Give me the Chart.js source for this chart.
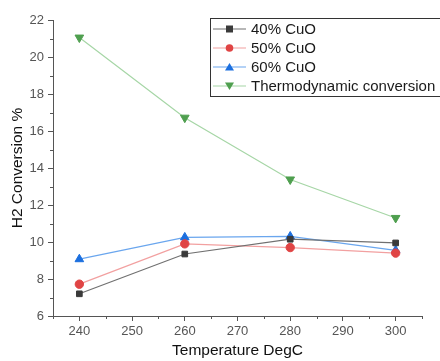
<!DOCTYPE html>
<html lang="en">
<head>
  <meta charset="UTF-8" />
  <title>H2 Conversion vs Temperature</title>
  <script src="https://cdn.jsdelivr.net/npm/chart.js"></script>
  <style>
    html, body { margin: 0; padding: 0; background: #fff; }
    #wrap { width: 440px; height: 361px; position: relative; }
  </style>
</head>
<body>
  <div id="wrap"><canvas id="conv"></canvas></div>

  <script>
    const temps = [240, 260, 280, 300];
    const cuo40 = [7.2, 9.35, 10.15, 9.95];
    const cuo50 = [7.72, 9.9, 9.7, 9.4];
    const cuo60 = [9.07, 10.25, 10.3, 9.55];
    const thermo = [21.05, 16.72, 13.38, 11.3];
    const xTicks = [240, 250, 260, 270, 280, 290, 300];
    const yTicks = [6, 8, 10, 12, 14, 16, 18, 20, 22];

    const FONT = "'Liberation Sans', Arial, sans-serif";
    const AXIS = '#555';

    function series(label, values, line, fill, style, radius) {
      return {
        label: label,
        data: temps.map((t, i) => ({ x: t, y: values[i] })),
        borderColor: line,
        borderWidth: 1.2,
        pointStyle: style,
        pointRadius: radius,
        pointBackgroundColor: fill,
        pointBorderColor: fill,
        pointBorderWidth: 1,
        pointRotation: style === 'triangle' && label === 'Thermodynamic conversion' ? 180 : 0,
        tension: 0
      };
    }

    const datasets = [
      series('40% CuO', cuo40, '#707070', '#3a3a3a', 'rect', 4),
      series('50% CuO', cuo50, '#f2a0a0', '#e04444', 'circle', 4.2),
      series('60% CuO', cuo60, '#6aa6ee', '#1b6fdf', 'triangle', 5),
      series('Thermodynamic conversion', thermo, '#a6d6a6', '#4f9f4f', 'triangle', 5)
    ];

    // minor ticks and the boxed legend
    const extras = {
      id: 'extras',
      afterDraw(chart) {
        const ctx = chart.ctx;
        const xs = chart.scales.x, ys = chart.scales.y;
        const a = chart.chartArea;
        ctx.save();
        ctx.strokeStyle = AXIS;
        ctx.lineWidth = 1;
        ctx.beginPath();
        for (let v = 235; v <= 305; v += 10) {
          const px = Math.round(xs.getPixelForValue(v)) + 0.5;
          ctx.moveTo(px, a.bottom);
          ctx.lineTo(px, a.bottom + 3);
        }
        for (let v = 7; v <= 21; v += 2) {
          const py = Math.round(ys.getPixelForValue(v)) + 0.5;
          ctx.moveTo(a.left, py);
          ctx.lineTo(a.left - 3, py);
        }
        ctx.stroke();

        // legend box
        const bx = 210.5, by = 18.5, bw = 240, bh = 78;
        ctx.strokeStyle = '#333';
        ctx.lineWidth = 1;
        ctx.fillStyle = '#fff';
        ctx.fillRect(bx, by, bw, bh);
        ctx.strokeRect(bx, by, bw, bh);
        ctx.font = '15px ' + FONT;
        ctx.textBaseline = 'middle';
        datasets.forEach((ds, i) => {
          const cy = 29 + i * 19;
          ctx.strokeStyle = ds.borderColor;
          ctx.lineWidth = 1.2;
          ctx.beginPath();
          ctx.moveTo(213, cy);
          ctx.lineTo(246, cy);
          ctx.stroke();
          ctx.fillStyle = ds.pointBackgroundColor;
          const cx = 229.5;
          ctx.beginPath();
          if (ds.pointStyle === 'rect') {
            ctx.rect(cx - 3.5, cy - 3.5, 7, 7);
          } else if (ds.pointStyle === 'circle') {
            ctx.arc(cx, cy, 3.8, 0, Math.PI * 2);
          } else if (ds.pointRotation === 180) {
            ctx.moveTo(cx - 4.5, cy - 3.5);
            ctx.lineTo(cx + 4.5, cy - 3.5);
            ctx.lineTo(cx, cy + 4);
          } else {
            ctx.moveTo(cx - 4.5, cy + 3.5);
            ctx.lineTo(cx + 4.5, cy + 3.5);
            ctx.lineTo(cx, cy - 4);
          }
          ctx.closePath();
          ctx.fill();
          ctx.fillStyle = '#1a1a1a';
          ctx.fillText(ds.label, 251, cy + 0.5);
        });
        ctx.restore();
      }
    };

    new Chart(document.getElementById('conv'), {
      type: 'line',
      data: { datasets: datasets },
      plugins: [extras],
      options: {
        responsive: true,
        maintainAspectRatio: false,
        animation: false,
        layout: { padding: { top: 20, right: 18, left: 0, bottom: 0 } },
        plugins: { legend: { display: false }, tooltip: { enabled: false } },
        scales: {
          x: {
            type: 'linear',
            min: 235,
            max: 305,
            afterBuildTicks: s => { s.ticks = xTicks.map(v => ({ value: v })); },
            afterFit: s => { s.height = 45; },
            grid: { drawOnChartArea: false, color: AXIS, tickLength: 5 },
            border: { color: AXIS, width: 1 },
            ticks: { color: '#555', font: { family: FONT, size: 13 }, padding: 3, maxRotation: 0 },
            title: { display: true, text: 'Temperature DegC', color: '#111', font: { family: FONT, size: 15.5 }, padding: { top: 0, bottom: 1 } }
          },
          y: {
            min: 6,
            max: 22,
            afterBuildTicks: s => { s.ticks = yTicks.map(v => ({ value: v })); },
            afterFit: s => { s.width = 53; },
            grid: { drawOnChartArea: false, color: AXIS, tickLength: 5 },
            border: { color: AXIS, width: 1 },
            ticks: { color: '#555', font: { family: FONT, size: 13 }, padding: 4 },
            title: { display: true, text: 'H2 Conversion %', color: '#111', font: { family: FONT, size: 15.5 }, padding: { top: 8, bottom: 0 } }
          }
        }
      }
    });
  </script>
</body>
</html>
